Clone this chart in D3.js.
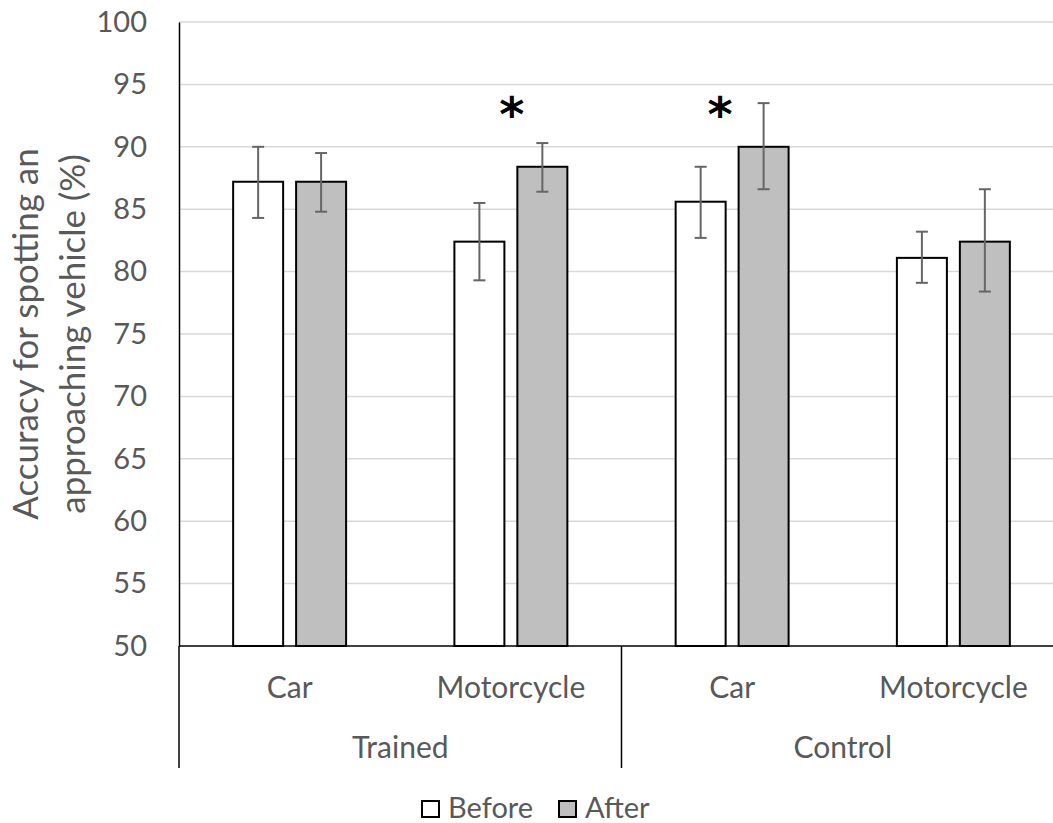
<!DOCTYPE html>
<html>
<meta charset='utf-8'>
<head>
<title>accuracy before and after</title>
<script src='https://d3js.org/d3.v7.min.js'></script>
<style>
  body { margin: 0; background: #fff; }
  text { font-family: Lato, 'Open Sans', sans-serif; fill: #595959; }
</style>
</head>
<body>
<div id='chart'></div>
<script>
var groups = ['Trained', 'Control']
var vehicles = ['Car', 'Motorcycle']
var phases = ['Before', 'After']
var before = [87.2, 82.4, 85.6, 81.1]
var after = [87.2, 88.4, 90.0, 82.4]
var beforeLow = [84.3, 79.3, 82.7, 79.1]
var beforeHigh = [90.0, 85.5, 88.4, 83.2]
var afterLow = [84.8, 86.4, 86.6, 78.4]
var afterHigh = [89.5, 90.3, 93.5, 86.6]
var yTicks = [50, 55, 60, 65, 70, 75, 80, 85, 90, 95, 100]
// significance markers: category index, y value
var stars = [{cat: 1, y: 93.0}, {cat: 2, y: 93.0}]

var W = 1053, H = 823
var mLeft = 179, mRight = 1064, mTop = 22, mBottom = 646

var svg = d3.select('#chart').append('svg')
  .attr('width', W).attr('height', H)

var cats = []
groups.forEach(function(g) { vehicles.forEach(function(v) { cats.push(g + '|' + v) }) })

var x = d3.scaleBand().domain(cats).range([mLeft, mRight])
var xs = d3.scaleBand().domain(phases).range([0, x.bandwidth()])
  .paddingInner(0.206).paddingOuter(0.86)
var y = d3.scaleLinear().domain([50, 100]).range([mBottom, mTop])

// gridlines
svg.append('g')
  .selectAll('line')
  .data(yTicks.slice(1))
  .enter().append('line')
  .attr('x1', mLeft).attr('x2', mRight)
  .attr('y1', function(d) { return y(d) }).attr('y2', function(d) { return y(d) })
  .attr('stroke', '#d9d9d9').attr('stroke-width', 1.5)

// y axis
var yAxis = svg.append('g')
  .attr('transform', 'translate(' + mLeft + ',0)')
  .call(d3.axisLeft(y).tickValues(yTicks).tickSize(0).tickPadding(32))
yAxis.select('.domain').attr('stroke', '#000').attr('stroke-width', 1.5)
yAxis.selectAll('text').style('font-size', '29px').style('fill', '#595959')
  .style('font-family', 'Lato, sans-serif')

// bars
var rows = cats.map(function(c, i) {
  return [
    {cat: c, phase: 'Before', v: before[i], lo: beforeLow[i], hi: beforeHigh[i]},
    {cat: c, phase: 'After', v: after[i], lo: afterLow[i], hi: afterHigh[i]}
  ]
})
var flat = [].concat.apply([], rows)

svg.append('g').selectAll('rect')
  .data(flat).enter().append('rect')
  .attr('x', function(d) { return x(d.cat) + xs(d.phase) })
  .attr('y', function(d) { return y(d.v) })
  .attr('width', xs.bandwidth())
  .attr('height', function(d) { return y(50) - y(d.v) })
  .attr('fill', function(d) { return d.phase === 'Before' ? '#ffffff' : '#bfbfbf' })
  .attr('stroke', '#000').attr('stroke-width', 2)

// error bars
var eb = svg.append('g').selectAll('g')
  .data(flat).enter().append('g')
  .attr('transform', function(d) { return 'translate(' + (x(d.cat) + xs(d.phase) + xs.bandwidth() / 2) + ',0)' })
eb.append('line')
  .attr('y1', function(d) { return y(d.lo) }).attr('y2', function(d) { return y(d.hi) })
eb.append('line').attr('x1', -6).attr('x2', 6)
  .attr('y1', function(d) { return y(d.lo) }).attr('y2', function(d) { return y(d.lo) })
eb.append('line').attr('x1', -6).attr('x2', 6)
  .attr('y1', function(d) { return y(d.hi) }).attr('y2', function(d) { return y(d.hi) })
eb.selectAll('line').attr('stroke', '#666').attr('stroke-width', 2)

// stars (hand placed a little off centre like the original)
var starNudge = [1, -12]
svg.append('g').selectAll('text')
  .data(stars).enter().append('text')
  .attr('x', function(d, i) { return x(cats[d.cat]) + x.bandwidth() / 2 + starNudge[i] })
  .attr('y', function(d) { return y(d.y) + 22 })
  .attr('text-anchor', 'middle')
  .style('font-size', '48px').style('font-weight', 'bold').style('fill', '#000')
  .style('font-family', 'DejaVu Sans, sans-serif')
  .text('*')

// x axis baseline
svg.append('line')
  .attr('x1', mLeft).attr('x2', mRight).attr('y1', mBottom).attr('y2', mBottom)
  .attr('stroke', '#000').attr('stroke-width', 1.5)

// group separators
var gx = d3.scaleBand().domain(groups).range([mLeft, mRight])
svg.append('g').selectAll('line')
  .data([mLeft, gx('Control'), mRight]).enter().append('line')
  .attr('x1', function(d) { return d }).attr('x2', function(d) { return d })
  .attr('y1', mBottom).attr('y2', 768)
  .attr('stroke', '#000').attr('stroke-width', 1.5)

// vehicle labels
svg.append('g').selectAll('text')
  .data(cats).enter().append('text')
  .attr('x', function(d) { return x(d) + x.bandwidth() / 2 })
  .attr('y', 698)
  .attr('text-anchor', 'middle')
  .style('font-size', '30px')
  .text(function(d) { return d.split('|')[1] })

// group labels
svg.append('g').selectAll('text')
  .data(groups).enter().append('text')
  .attr('x', function(d) { return gx(d) + gx.bandwidth() / 2 })
  .attr('y', 758)
  .attr('text-anchor', 'middle')
  .style('font-size', '30px')
  .text(function(d) { return d })

// y label
var yl = svg.append('text')
  .attr('transform', 'translate(38,' + ((mTop + mBottom) / 2) + ') rotate(-90)')
  .attr('text-anchor', 'middle')
  .style('font-size', '35px')
yl.append('tspan').attr('x', 0).attr('dy', 0).text('Accuracy for spotting an')
yl.append('tspan').attr('x', 0).attr('dy', 47).text('approaching vehicle (%)')

// legend
var leg = svg.append('g').attr('transform', 'translate(422,801)')
var legItems = leg.selectAll('g').data(phases).enter().append('g')
  .attr('transform', function(d, i) { return 'translate(' + (i * 137) + ',0)' })
legItems.append('rect')
  .attr('width', 17).attr('height', 16)
  .attr('fill', function(d) { return d === 'Before' ? '#fff' : '#bfbfbf' })
  .attr('stroke', '#000').attr('stroke-width', 2)
legItems.append('text')
  .attr('x', 26).attr('y', 17)
  .style('font-size', '29px')
  .text(function(d) { return d })
</script>
</body>
</html>
